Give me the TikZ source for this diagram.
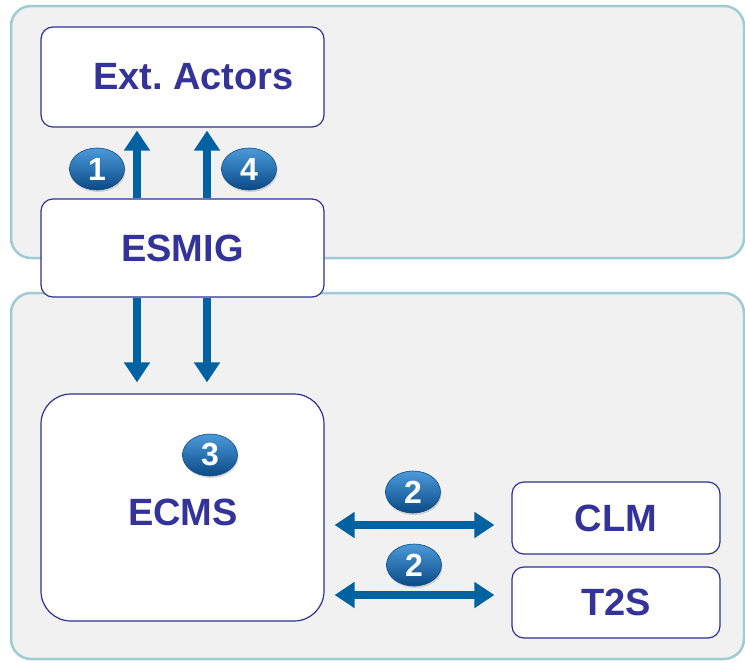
\documentclass[tikz,border=0pt]{standalone}
\usepackage{fontspec}
\setmainfont{Liberation Sans}
\usetikzlibrary{arrows.meta,shapes.geometric,shadows}
\definecolor{panelfill}{HTML}{F1F1F1}
\definecolor{panelline}{HTML}{9FCBD4}
\definecolor{boxline}{HTML}{2E3192}
\definecolor{boxtext}{HTML}{333399}
\definecolor{arrowblue}{HTML}{0062A1}
\definecolor{badgetop}{HTML}{4C9ADA}
\definecolor{badgebot}{HTML}{0A4A86}
\tikzset{
  panel/.style={draw=panelline, line width=2.5pt, fill=panelfill, rounded corners=20pt},
  box/.style={draw=boxline, line width=1.2pt, fill=white, rounded corners=12pt,
    font=\bfseries\fontsize{38}{40}\selectfont, text=boxtext, inner sep=0pt},
  badge/.style={ellipse, minimum width=55pt, minimum height=42pt, inner sep=0pt,
    top color=badgetop, bottom color=badgebot, draw=badgebot, line width=0.6pt,
    text=white, font=\bfseries\fontsize{32}{32}\selectfont,
    drop shadow={shadow xshift=1pt, shadow yshift=-2pt, opacity=0.3}},
  flow/.style={draw=arrowblue, line width=8pt,
    -{Triangle[width=25pt,length=20pt]}},
  biflow/.style={draw=arrowblue, line width=8pt,
    {Triangle[width=25pt,length=20pt]}-{Triangle[width=25pt,length=20pt]}}
}
\begin{document}
\begin{tikzpicture}[x=1pt,y=-1pt]
\useasboundingbox (0,0) rectangle (745,662);
% panels
\path[panel] (11,6) rectangle (744,258);
\path[panel] (11,293) rectangle (744,659);
% boxes
\node[box, minimum width=283pt, minimum height=100pt] (ext) at (182.5,77) {\hspace*{22pt}Ext.\ Actors};
\node[box, minimum width=283pt, minimum height=98pt] (esmig) at (182.5,248) {ESMIG};
\node[box, rounded corners=30pt, minimum width=283pt, minimum height=227pt] (ecms) at (182.5,507.5) {};
\node[font=\bfseries\fontsize{38}{40}\selectfont, text=boxtext] (ecmslabel) at (183,512) {ECMS};
\node[box, minimum width=208pt, minimum height=72pt] (clm) at (616,518) {CLM};
\node[box, minimum width=208pt, minimum height=71pt] (t2s) at (616,602.5) {T2S};
% arrows up
\draw[flow, shorten >=3pt] ([xshift=-45.5pt]esmig.north) -- ([xshift=-45.5pt]ext.south);
\draw[flow, shorten >=3pt] ([xshift=24.5pt]esmig.north) -- ([xshift=24.5pt]ext.south);
% arrows down
\draw[flow, shorten >=11pt] ([xshift=-45.5pt]esmig.south) -- ([xshift=-45.5pt]ecms.north);
\draw[flow, shorten >=11pt] ([xshift=24.5pt]esmig.south) -- ([xshift=24.5pt]ecms.north);
% horizontal
\coordinate (c2) at ([yshift=-7pt]clm.west);
\coordinate (t2) at ([yshift=7.5pt]t2s.west);
\draw[biflow, shorten <=10pt, shorten >=17pt] (c2 -| ecms.east) -- (c2);
\draw[biflow, shorten <=10pt, shorten >=17pt] (t2 -| ecms.east) -- (t2);
% badges
\node[badge] (b1) at (97,169) {1};
\node[badge] (b4) at (249,169) {4};
\node[badge] (b3) at (210,455) {3};
\node[badge] (b2a) at (413,492) {2};
\node[badge] (b2b) at (414,565) {2};
\end{tikzpicture}
\end{document}
